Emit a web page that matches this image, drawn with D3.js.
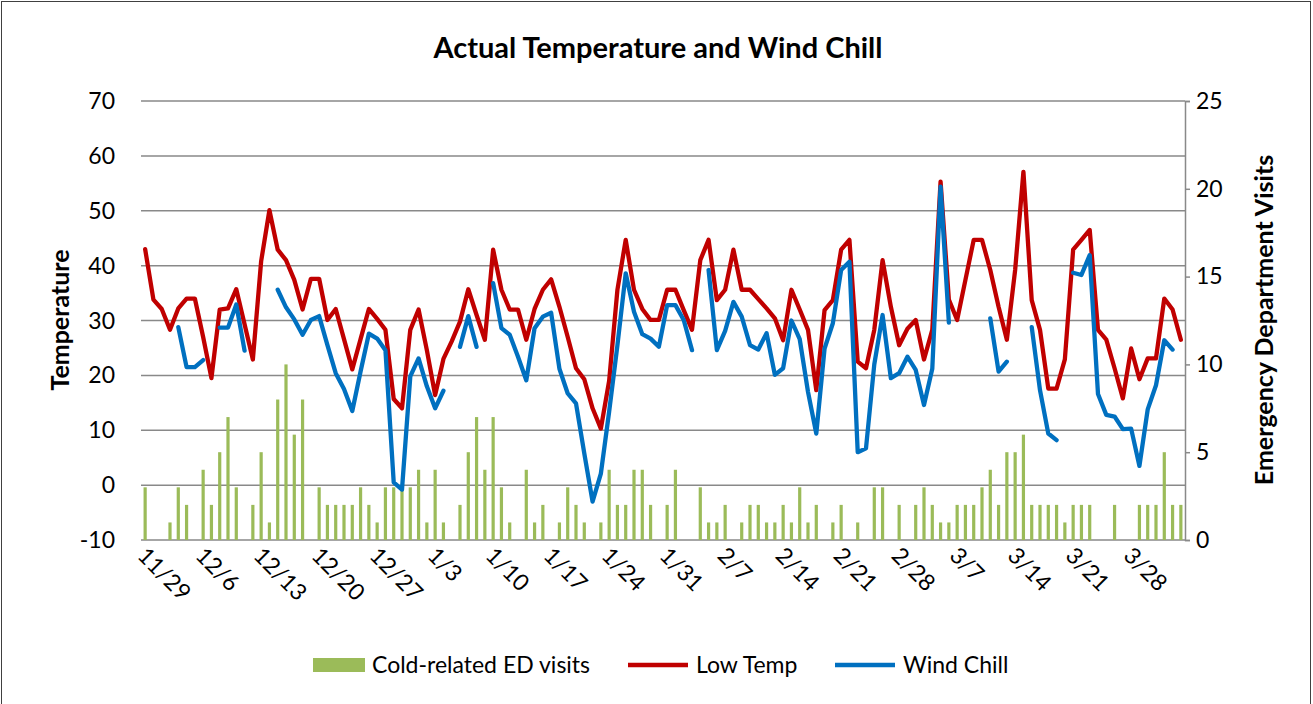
<!DOCTYPE html>
<html>
<head>
<meta charset="utf-8">
<script src="https://cdnjs.cloudflare.com/ajax/libs/d3/7.8.5/d3.min.js"></script>
<style>
  body { margin: 0; background: #fff; }
  svg { display: block; font-family: Lato, "Noto Sans", sans-serif; }
</style>
</head>
<body>
<svg id="chart" width="1313" height="704"></svg>
<script>
// one category per day, 11/29 .. 4/3
var days = d3.timeDay.range(new Date(2013, 10, 29), new Date(2014, 3, 4));
var fmt = d3.timeFormat("%-m/%-d");
var categories = days.map(fmt);

var tickLabels = ["11/29","12/6","12/13","12/20","12/27","1/3","1/10","1/17","1/24","1/31",
                  "2/7","2/14","2/21","2/28","3/7","3/14","3/21","3/28"];

// cold-related ED visits per day
var edVisits = [3,0,0,1,3,2,0,4,2,5,7,3,0,2,5,1,8,10,6,8,0,
  3,2,2,2,2,3,2,1,3,3,3,3,4,1,4,1,0,2,5,7,4,7,3,1,0,4,1,2,0,1,3,2,1,0,1,4,2,2,4,4,2,
  0,2,4,0,0,3,1,1,2,0,1,2,2,1,1,2,1,3,1,2,0,1,2,0,1,0,3,3,0,2,0,2,
  3,2,1,1,2,2,2,3,4,2,5,5,6,2,2,2,2,1,2,2,2,0,0,2,0,0,2,2,2,5,2,2];

// low temperature (F)
var lowTemp = [43,33.8,32.1,28.3,32.2,34,34,27,19.5,32,32.2,35.7,29.3,22.9,40.8,50.1,42.9,41,37.4,32,37.6,
  37.6,30.1,32.1,26.6,21.1,26.6,32.1,30.3,28.3,15.7,14,28.3,32,24.6,16.4,23,26.2,29.8,35.7,31,26.5,
  42.9,35.6,32,32,26.5,32.1,35.6,37.5,32.5,27,21.3,19.3,14,10.3,19,35.6,44.7,35.6,32.1,30.1,
  30.1,35.6,35.6,31.9,28.3,41,44.7,33.7,35.6,42.9,35.6,35.6,33.9,32.2,30.4,26.4,35.6,32,28.3,17.3,31.9,33.7,
  42.9,44.7,22.5,21.3,28.3,41,32.5,25.5,28.5,30.1,22.9,28.3,55.3,33.8,30.1,37.4,44.7,44.7,39.2,32.5,26.5,
  39.2,57.1,33.7,28.3,17.6,17.6,22.9,42.9,44.7,46.5,28.3,26.5,21.3,15.8,24.9,19.3,23.1,23.1,34,32,26.5];

// wind chill (F), null where missing
var windChill = [null,null,null,null,28.8,21.5,21.5,22.8,null,28.7,28.7,32.9,24.5,null,null,null,35.6,32.4,30.2,27.4,30.1,
  30.8,25.5,20.4,17.5,13.5,20.7,27.6,26.7,24.6,0.5,-0.8,19.8,23.1,18,14,17.2,null,25.2,30.8,25.2,null,
  36.8,28.6,27.4,23.4,19.1,28.6,30.7,31.4,21.2,16.7,14.9,5.8,-3,2.1,13.4,25.5,38.6,31.6,27.5,26.7,
  25.2,32.8,32.8,30.1,24.6,null,39.2,24.6,28.1,33.4,30.7,25.5,24.7,27.7,20.1,21.3,30,26.6,17,9.4,24.9,29.5,
  39.2,40.7,6,6.7,22,31,19.5,20.4,23.4,21,14.6,21.2,54.4,29.6,null,null,null,null,30.4,20.7,22.5,
  null,null,28.8,17.3,9.4,8.2,null,38.7,38.3,41.9,16.6,12.8,12.5,10.2,10.3,3.5,13.8,18.2,26.4,24.7,null];

var tempTicks = [-10,0,10,20,30,40,50,60,70];
var visitTicks = [0,5,10,15,20,25];

var svg = d3.select("#chart");
var plot = {left: 141, right: 1185, top: 101, bottom: 540};

var x = d3.scaleBand().domain(categories).range([plot.left, plot.right]);
var yT = d3.scaleLinear().domain([-10, 70]).range([plot.bottom, plot.top]);
var yV = d3.scaleLinear().domain([0, 25]).range([plot.bottom, plot.top]);
var cx = function(i) { return x(categories[i]) + x.bandwidth() / 2; };

// outer frame
svg.append("rect")
  .attr("x", 1.5).attr("y", 1.5)
  .attr("width", 1309).attr("height", 730)
  .attr("fill", "none").attr("stroke", "#404040").attr("stroke-width", 1);

// title
svg.append("text")
  .attr("x", 658).attr("y", 58)
  .attr("text-anchor", "middle")
  .attr("font-size", 29).attr("font-weight", "bold")
  .text("Actual Temperature and Wind Chill");

// gridlines
svg.append("g").selectAll("line")
  .data(tempTicks)
  .enter().append("line")
    .attr("x1", plot.left).attr("x2", plot.right)
    .attr("y1", function(d) { return yT(d); })
    .attr("y2", function(d) { return yT(d); })
    .attr("stroke", "#898989").attr("stroke-width", 1.5);

// left tick labels
svg.append("g").selectAll("text")
  .data(tempTicks)
  .enter().append("text")
    .attr("x", 115)
    .attr("y", function(d) { return yT(d); })
    .attr("dy", "0.35em")
    .attr("text-anchor", "end")
    .attr("font-size", 23)
    .text(function(d) { return d; });

// right axis
var rightAxis = d3.axisRight(yV).tickValues(visitTicks).tickSize(5).tickPadding(6);
var ra = svg.append("g")
  .attr("transform", "translate(" + plot.right + ",0)")
  .call(rightAxis);
ra.select(".domain").attr("stroke", "#898989").attr("stroke-width", 1.5);
ra.selectAll(".tick line").attr("stroke", "#898989").attr("stroke-width", 1.5);
ra.selectAll(".tick text").attr("font-size", 23).attr("font-family", "Lato, sans-serif").attr("fill", "#000");

// axis titles
svg.append("text")
  .attr("transform", "translate(69,320) rotate(-90)")
  .attr("text-anchor", "middle")
  .attr("font-size", 25).attr("font-weight", "bold")
  .text("Temperature");
svg.append("text")
  .attr("transform", "translate(1273,320) rotate(-90)")
  .attr("text-anchor", "middle")
  .attr("font-size", 25).attr("font-weight", "bold")
  .text("Emergency Department Visits");

// x labels, every 7th day
svg.append("g").selectAll("text")
  .data(tickLabels)
  .enter().append("text")
    .attr("transform", function(d) {
      var i = categories.indexOf(d);
      return "translate(" + (cx(i) - 9) + ",557) rotate(45)";
    })
    .attr("font-size", 23)
    .text(function(d) { return d; });

// bars
var barW = 3.2;
svg.append("g").selectAll("rect")
  .data(edVisits)
  .enter().append("rect")
    .attr("x", function(d, i) { return cx(i) - barW / 2; })
    .attr("y", function(d) { return yV(d); })
    .attr("width", barW)
    .attr("height", function(d) { return yV(0) - yV(d); })
    .attr("fill", "#9BBB59");

var line = d3.line()
  .defined(function(d) { return d != null; })
  .x(function(d, i) { return cx(i); })
  .y(function(d) { return yT(d); });

svg.append("path")
  .datum(lowTemp)
  .attr("fill", "none")
  .attr("stroke", "#C00000")
  .attr("stroke-width", 4.3)
  .attr("stroke-linejoin", "round")
  .attr("stroke-linecap", "round")
  .attr("d", line);

svg.append("path")
  .datum(windChill)
  .attr("fill", "none")
  .attr("stroke", "#0070C0")
  .attr("stroke-width", 4.3)
  .attr("stroke-linejoin", "round")
  .attr("stroke-linecap", "round")
  .attr("d", line);

// legend
var lg = svg.append("g").attr("font-size", 23);
lg.append("rect").attr("x", 313).attr("y", 658).attr("width", 52).attr("height", 14).attr("fill", "#9BBB59");
lg.append("text").attr("x", 372).attr("y", 673).text("Cold-related ED visits");
lg.append("line").attr("x1", 628).attr("x2", 688).attr("y1", 665).attr("y2", 665)
  .attr("stroke", "#C00000").attr("stroke-width", 4.3);
lg.append("text").attr("x", 696).attr("y", 673).text("Low Temp");
lg.append("line").attr("x1", 835).attr("x2", 895).attr("y1", 665).attr("y2", 665)
  .attr("stroke", "#0070C0").attr("stroke-width", 4.3);
lg.append("text").attr("x", 903).attr("y", 673).text("Wind Chill");
</script>
</body>
</html>
